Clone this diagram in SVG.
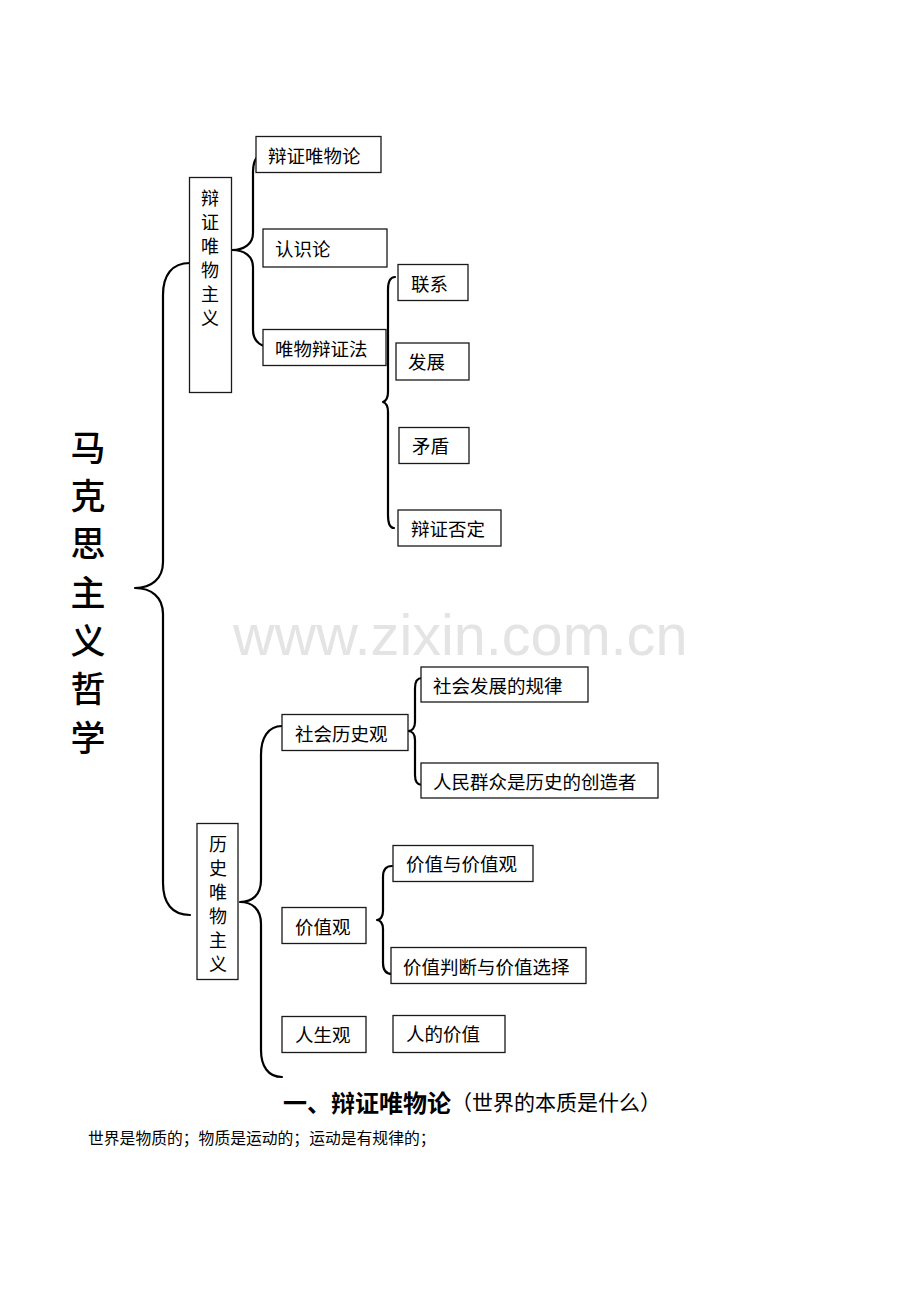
<svg xmlns="http://www.w3.org/2000/svg" width="920" height="1302" viewBox="0 0 920 1302">
<style>
.bg{fill:#ffffff}
.box{fill:#ffffff;stroke:#1a1a1a;stroke-width:1.3}
.t{font-family:"Noto Sans CJK SC","Liberation Sans",sans-serif;font-size:18.5px;fill:#000;dominant-baseline:central}
.vt{font-family:"Noto Sans CJK SC","Liberation Sans",sans-serif;font-size:18px;fill:#000;dominant-baseline:central;text-anchor:middle}
.title{font-family:"Noto Sans CJK SC","Liberation Sans",sans-serif;font-size:35px;font-weight:500;fill:#000;dominant-baseline:central;text-anchor:middle}
.brace{fill:none;stroke:#000;stroke-width:2.2;stroke-linecap:round;stroke-linejoin:round}
.wm{font-family:"Liberation Sans",Arial,sans-serif;font-size:57.6px;fill:#e4e4e4}
</style>
<rect class="bg" x="0" y="0" width="920" height="1302"/>
<text class="wm" x="233" y="655">www.zixin.com.cn</text>

<g id="connectors">
<path class="brace" d="M190,263 C172,263 163,275 163,295 L163,562 C163,579 151,588 135,588 C151,588 163,597 163,614 L163,883 C163,903 172,915 190,915"/>
<path class="brace" d="M268,153 C258,153 253,160 253,172 L253,233 C253,244 244,250 232,250 C244,250 253,256 253,267 L253,330 C253,342 262,348 275,348"/>
<path class="brace" d="M395,277 C390,277 388,282 388,290 L388,392 C388,398 386,401 383,402 C386,403 388,406 388,412 L388,515 C388,523 390,528 394,528"/>
<path class="brace" d="M282,726 C268,726 261,738 261,755 L261,880 C261,895 252,902 240,902 C252,902 261,909 261,924 L261,1050 C261,1066 268,1077 282,1077"/>
<path class="brace" d="M422,678 C417,678 415,682 415,688 L415,722 C415,728 412,731 408,731 C412,731 415,734 415,740 L415,775 C415,781 417,785 422,785"/>
<path class="brace" d="M392,866 C386,866 383,870 383,877 L383,911 C383,917 380,920 377,920 C380,920 383,923 383,929 L383,963 C383,970 386,974 392,974"/>
</g>

<g id="n-root">
<text class="title" x="88" y="445">马</text>
<text class="title" x="88" y="493">克</text>
<text class="title" x="88" y="541">思</text>
<text class="title" x="88" y="590">主</text>
<text class="title" x="88" y="638">义</text>
<text class="title" x="88" y="686">哲</text>
<text class="title" x="88" y="735">学</text>
</g>

<g id="n-dialectical-materialism">
<rect class="box" x="189.5" y="177.5" width="42" height="215"/>
<text class="vt" x="210" y="197">辩</text>
<text class="vt" x="210" y="221">证</text>
<text class="vt" x="210" y="245">唯</text>
<text class="vt" x="210" y="269">物</text>
<text class="vt" x="210" y="293">主</text>
<text class="vt" x="210" y="317">义</text>
</g>

<g id="n-bzwwl">
<rect class="box" x="256" y="136.5" width="125" height="36"/>
<text class="t" x="268" y="155">辩证唯物论</text>
</g>
<g id="n-rsl">
<rect class="box" x="263" y="229" width="124" height="38"/>
<text class="t" x="275" y="248">认识论</text>
</g>
<g id="n-wwbzf">
<rect class="box" x="263" y="329.5" width="123" height="36"/>
<text class="t" x="275" y="348">唯物辩证法</text>
</g>

<g id="n-lx">
<rect class="box" x="398" y="264.5" width="70" height="36"/>
<text class="t" x="411" y="283">联系</text>
</g>
<g id="n-fz">
<rect class="box" x="396" y="343" width="73" height="37"/>
<text class="t" x="408" y="361">发展</text>
</g>
<g id="n-md">
<rect class="box" x="399" y="427.5" width="70" height="36"/>
<text class="t" x="412" y="445">矛盾</text>
</g>
<g id="n-bzfd">
<rect class="box" x="398" y="510" width="103" height="36"/>
<text class="t" x="411" y="528">辩证否定</text>
</g>

<g id="n-historical-materialism">
<rect class="box" x="197" y="823.5" width="41" height="156"/>
<text class="vt" x="218" y="843">历</text>
<text class="vt" x="218" y="867">史</text>
<text class="vt" x="218" y="891">唯</text>
<text class="vt" x="218" y="915">物</text>
<text class="vt" x="218" y="939">主</text>
<text class="vt" x="218" y="963">义</text>
</g>

<g id="n-shlsg">
<rect class="box" x="282" y="714.5" width="126" height="36"/>
<text class="t" x="295" y="733">社会历史观</text>
</g>
<g id="n-shfzgl">
<rect class="box" x="421" y="667" width="167" height="35"/>
<text class="t" x="433" y="685">社会发展的规律</text>
</g>
<g id="n-rmqz">
<rect class="box" x="421" y="763" width="237" height="35"/>
<text class="t" x="433" y="781">人民群众是历史的创造者</text>
</g>

<g id="n-jzg">
<rect class="box" x="282" y="907.5" width="84" height="36"/>
<text class="t" x="295" y="926">价值观</text>
</g>
<g id="n-jzyjzg">
<rect class="box" x="393" y="845.5" width="140" height="36"/>
<text class="t" x="406" y="863">价值与价值观</text>
</g>
<g id="n-jzpd">
<rect class="box" x="391" y="947.5" width="195" height="36"/>
<text class="t" x="403" y="966">价值判断与价值选择</text>
</g>

<g id="n-rsg">
<rect class="box" x="282" y="1016.5" width="84" height="36"/>
<text class="t" x="295" y="1034">人生观</text>
</g>
<g id="n-rdjz">
<rect class="box" x="393" y="1015.5" width="112" height="37"/>
<text class="t" x="406" y="1033">人的价值</text>
</g>

<g id="heading">
<text x="283" y="1101" style="font-family:'Noto Sans CJK SC','Liberation Sans',sans-serif;dominant-baseline:central;fill:#000"><tspan font-size="24" font-weight="600">一、辩证唯物论</tspan><tspan font-size="21">（世界的本质是什么）</tspan></text>
<text x="88" y="1137" style="font-family:'Noto Sans CJK SC','Liberation Sans',sans-serif;font-size:15.8px;dominant-baseline:central;fill:#000">世界是物质的；物质是运动的；运动是有规律的；</text>
</g>
</svg>
